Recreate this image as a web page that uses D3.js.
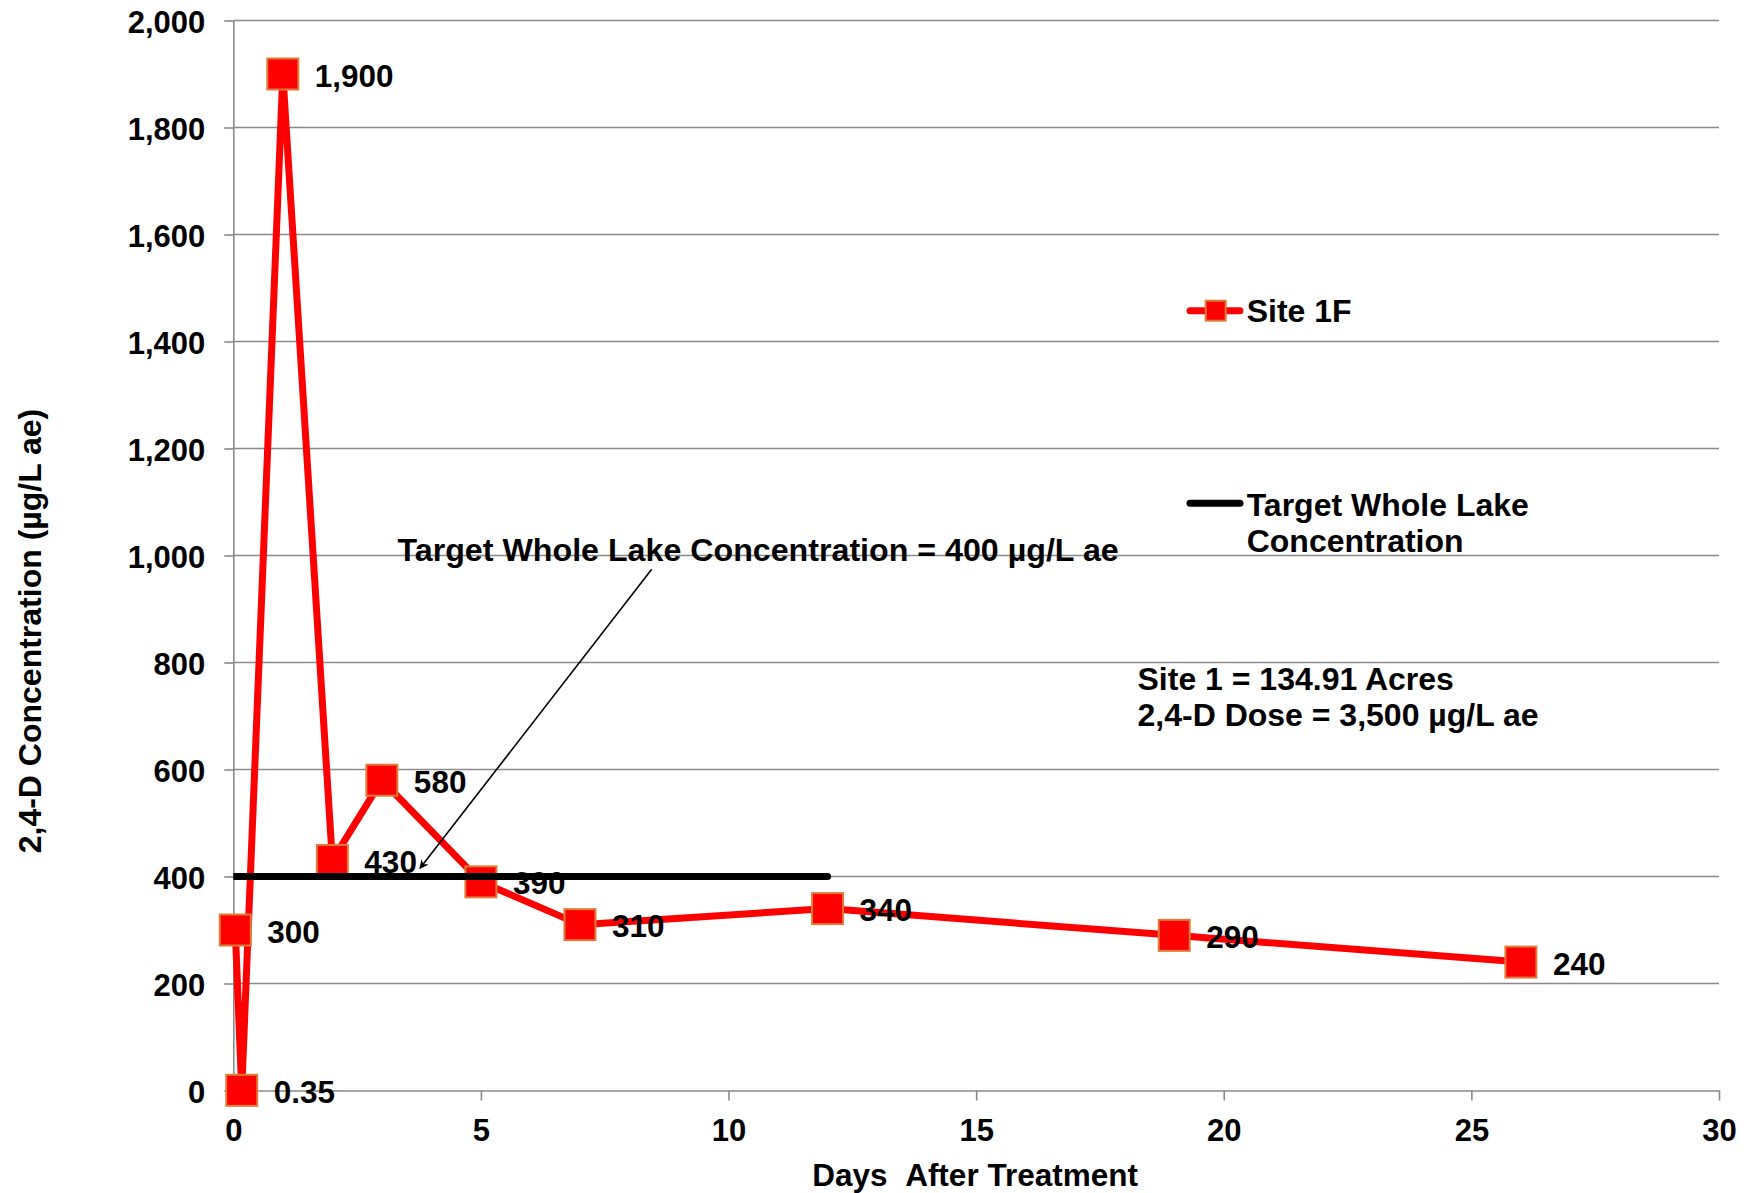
<!DOCTYPE html>
<html>
<head>
<meta charset="utf-8">
<script src="https://cdn.jsdelivr.net/npm/d3@7"></script>
<style>
  html, body { margin: 0; padding: 0; background: #fff; }
  svg { display: block; }
  text { font-family: "Liberation Sans", Arial, sans-serif; font-weight: bold; fill: #000; }
</style>
</head>
<body>
<svg id="chart" width="1752" height="1193"></svg>
<script>
// ---- data ----
const days = [0.04, 0.17, 1, 2, 3, 5, 7, 12, 19, 26];
const conc = [300, 0.35, 1900, 430, 580, 390, 310, 340, 290, 240];
const pointLabels = ["300", "0.35", "1,900", "430", "580", "390", "310", "340", "290", "240"];
const targetDays = [0, 12];
const targetConc = [400, 400];
const xTicks = [0, 5, 10, 15, 20, 25, 30];
const yTicks = [0, 200, 400, 600, 800, 1000, 1200, 1400, 1600, 1800, 2000];
const seriesNames = ["Site 1F", "Target Whole Lake|Concentration"];
const targetNote = "Target Whole Lake Concentration = 400 µg/L ae";
const siteNotes = ["Site 1 = 134.91 Acres", "2,4-D Dose = 3,500 µg/L ae"];
const xTitle = "Days\u00a0\u00a0After Treatment";
const yTitle = "2,4-D Concentration (µg/L ae)";

// ---- layout ----
const W = 1752, H = 1193;
const plot = { left: 233.3, right: 1719, top: 20.5, bottom: 1090.5 };
const svg = d3.select("#chart");
const x = d3.scaleLinear().domain([0, 30]).range([plot.left, plot.right]);
const y = d3.scaleLinear().domain([0, 2000]).range([plot.bottom, plot.top]);
const gridColor = "#8a8a8a";
const fmt = d3.format(",");

const defs = svg.append("defs");
defs.append("clipPath").attr("id", "plotclip").append("rect")
  .attr("x", plot.left).attr("y", 0).attr("width", W - plot.left).attr("height", H);

// gridlines
svg.append("g").selectAll("line").data(yTicks.filter(d => d > 0)).join("line")
  .attr("x1", plot.left).attr("x2", plot.right)
  .attr("y1", d => y(d)).attr("y2", d => y(d))
  .attr("stroke", gridColor).attr("stroke-width", 1.6);

// y axis
const yAxis = svg.append("g").attr("transform", `translate(${plot.left},0)`)
  .call(d3.axisLeft(y).tickValues(yTicks).tickFormat(fmt).tickSize(9).tickSizeOuter(0).tickPadding(19));
yAxis.select(".domain").attr("stroke", gridColor).attr("stroke-width", 1.6);
yAxis.selectAll(".tick line").attr("stroke", gridColor).attr("stroke-width", 1.6);
yAxis.selectAll(".tick text").attr("font-size", 31).attr("fill", "#000")
  .attr("font-family", "Liberation Sans, Arial, sans-serif").attr("font-weight", "bold")
  .attr("dy", "0.40em");

// x axis
const xAxis = svg.append("g").attr("transform", `translate(0,${plot.bottom})`)
  .call(d3.axisBottom(x).tickValues(xTicks).tickFormat(d3.format("d")).tickSize(10).tickSizeOuter(0).tickPadding(18));
xAxis.select(".domain").attr("stroke", gridColor).attr("stroke-width", 1.6);
xAxis.selectAll(".tick line").attr("stroke", gridColor).attr("stroke-width", 1.6);
xAxis.selectAll(".tick text").attr("font-size", 31).attr("fill", "#000")
  .attr("font-family", "Liberation Sans, Arial, sans-serif").attr("font-weight", "bold");

// series 1 line
const pts = days.map((d, i) => ({ x: d, y: conc[i], label: pointLabels[i] }));
const line = d3.line().x(d => x(d.x)).y(d => y(d.y));
svg.append("path").datum(pts).attr("d", line)
  .attr("fill", "none").attr("stroke", "#ff0000").attr("stroke-width", 7)
  .attr("stroke-linejoin", "round").attr("stroke-linecap", "round");

// markers
const ms = 31;
svg.append("g").selectAll("rect").data(pts).join("rect")
  .attr("x", d => x(d.x) - ms / 2).attr("y", d => y(d.y) - ms / 2)
  .attr("width", ms).attr("height", ms)
  .attr("fill", "#ff0000").attr("stroke", "#e07b39").attr("stroke-width", 2);

// data labels
svg.append("g").selectAll("text").data(pts).join("text")
  .attr("x", d => x(d.x) + 32).attr("y", d => y(d.y) + 12.5)
  .attr("font-size", 31.5).text(d => d.label);

// target line
const tpts = targetDays.map((d, i) => ({ x: d, y: targetConc[i] }));
svg.append("path").datum(tpts).attr("d", line).attr("clip-path", "url(#plotclip)")
  .attr("fill", "none").attr("stroke", "#000").attr("stroke-width", 7)
  .attr("stroke-linecap", "round");

// annotation arrow
defs.append("marker").attr("id", "arrow").attr("viewBox", "0 0 10 10")
  .attr("refX", 9).attr("refY", 5).attr("markerWidth", 9).attr("markerHeight", 9)
  .attr("markerUnits", "userSpaceOnUse").attr("orient", "auto")
  .append("path").attr("d", "M0,0 L10,5 L0,10 L3,5 Z").attr("fill", "#000");
svg.append("line")
  .attr("x1", 651.7).attr("y1", 569.3).attr("x2", 420).attr("y2", 868.3)
  .attr("stroke", "#000").attr("stroke-width", 1.6).attr("marker-end", "url(#arrow)");
svg.append("text").attr("x", 397.5).attr("y", 560.5).attr("font-size", 32.2).text(targetNote);

// legend
const lx1 = 1190, lx2 = 1240;
svg.append("line").attr("x1", lx1).attr("x2", lx2).attr("y1", 310.7).attr("y2", 310.7)
  .attr("stroke", "#ff0000").attr("stroke-width", 7).attr("stroke-linecap", "round");
svg.append("rect").attr("x", 1215.7 - 10).attr("y", 310.7 - 10).attr("width", 20).attr("height", 20)
  .attr("fill", "#ff0000").attr("stroke", "#e07b39").attr("stroke-width", 2);
svg.append("text").attr("x", 1246.7).attr("y", 322).attr("font-size", 32).text(seriesNames[0]);

svg.append("line").attr("x1", lx1).attr("x2", lx2).attr("y1", 503.3).attr("y2", 503.3)
  .attr("stroke", "#000").attr("stroke-width", 7).attr("stroke-linecap", "round");
const t2 = svg.append("text").attr("font-size", 32);
seriesNames[1].split("|").forEach((s, i) => {
  t2.append("tspan").attr("x", 1246.7).attr("y", 515.5 + i * 36.7).text(s);
});

// site notes
const t3 = svg.append("text").attr("font-size", 32);
siteNotes.forEach((s, i) => {
  t3.append("tspan").attr("x", 1137.5).attr("y", 689.5 + i * 36.5).text(s);
});

// axis titles
svg.append("text").attr("x", (plot.left + plot.right) / 2 - 1).attr("y", 1186)
  .attr("text-anchor", "middle").attr("font-size", 31.5).text(xTitle);
svg.append("text").attr("transform", "translate(41,631) rotate(-90)")
  .attr("text-anchor", "middle").attr("font-size", 32).text(yTitle);
</script>
</body>
</html>
